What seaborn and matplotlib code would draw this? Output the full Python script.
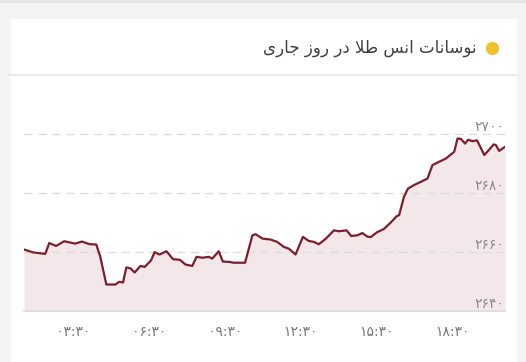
import matplotlib
matplotlib.use("Agg")
import matplotlib.pyplot as plt
import seaborn as sns
import pandas as pd
from matplotlib.patches import Rectangle
from matplotlib.lines import Line2D

# ---------------- data ----------------
title = "نوسانات انس طلا در روز جاری"
times = [1.54, 1.91, 2.38, 2.54, 2.81, 3.13, 3.57, 3.83, 4.14, 4.40, 4.56,
         4.80, 5.16, 5.30, 5.46, 5.59, 5.75, 5.92, 6.15, 6.32, 6.57,
         6.71, 6.90, 7.18, 7.44, 7.71, 7.93, 8.20, 8.37, 8.60, 8.86,
         8.99, 9.25, 9.41, 9.65, 9.85, 10.29, 10.58, 10.71, 10.98,
         11.29, 11.56, 11.82, 12.02, 12.29, 12.58, 12.81, 13.01, 13.21, 13.48,
         13.81, 14.00, 14.31, 14.49, 14.73, 14.93, 15.13, 15.26, 15.52, 15.79,
         16.06, 16.29, 16.39, 16.58, 16.74, 16.98, 17.25, 17.51, 17.71, 17.97,
         18.24, 18.57, 18.70, 18.83, 19.00, 19.12, 19.29, 19.47, 19.60, 19.76,
         19.96, 20.13, 20.22, 20.35, 20.58]
prices = [2660.9, 2659.9, 2659.4, 2663.1, 2662.1, 2663.7, 2662.9, 2663.6, 2662.7, 2662.6, 2658.4,
          2649.0, 2649.0, 2649.9, 2649.7, 2654.8, 2654.5, 2653.1, 2655.3, 2655.0, 2657.2,
          2660.0, 2659.2, 2660.3, 2657.6, 2657.4, 2655.8, 2655.3, 2658.4, 2658.1, 2658.4,
          2657.8, 2660.3, 2656.8, 2656.7, 2656.4, 2656.4, 2665.7, 2666.1, 2664.6,
          2664.3, 2663.5, 2661.8, 2661.2, 2659.2, 2665.2, 2663.8, 2663.5, 2662.7, 2664.5,
          2667.4, 2667.1, 2667.4, 2665.5, 2665.7, 2666.5, 2665.3, 2665.1, 2666.8, 2667.9,
          2670.1, 2672.2, 2672.6, 2678.8, 2681.6, 2682.8, 2683.9, 2685.0, 2689.6, 2690.7,
          2691.8, 2694.1, 2698.6, 2698.5, 2696.9, 2698.2, 2697.7, 2698.0, 2695.8, 2693.0,
          2694.9, 2696.6, 2696.4, 2694.4, 2695.8]
x_ticks = [3.5, 6.5, 9.5, 12.5, 15.5, 18.5]
x_labels = ["۰۳:۳۰", "۰۶:۳۰", "۰۹:۳۰", "۱۲:۳۰", "۱۵:۳۰", "۱۸:۳۰"]
y_ticks = [2640, 2660, 2680, 2700]
y_labels = ["۲۶۴۰", "۲۶۶۰", "۲۶۸۰", "۲۷۰۰"]

# ------------- simple Persian shaping (presentation forms) -------------
FORMS = {  # isolated, final, initial, medial
    "ا": ("\uFE8D", "\uFE8E", None, None),
    "ت": ("\uFE95", "\uFE96", "\uFE97", "\uFE98"),
    "ج": ("\uFE9D", "\uFE9E", "\uFE9F", "\uFEA0"),
    "د": ("\uFEA9", "\uFEAA", None, None),
    "ر": ("\uFEAD", "\uFEAE", None, None),
    "ز": ("\uFEAF", "\uFEB0", None, None),
    "س": ("\uFEB1", "\uFEB2", "\uFEB3", "\uFEB4"),
    "ط": ("\uFEC1", "\uFEC2", "\uFEC3", "\uFEC4"),
    "ل": ("\uFEDD", "\uFEDE", "\uFEDF", "\uFEE0"),
    "ن": ("\uFEE5", "\uFEE6", "\uFEE7", "\uFEE8"),
    "و": ("\uFEED", "\uFEEE", None, None),
    "ی": ("\uFBFC", "\uFBFD", "\uFBFE", "\uFBFF"),
}
LAM_ALEF = ("\uFEFB", "\uFEFC")


def dual(c):
    return c in FORMS and FORMS[c][2] is not None


def shape(text):
    out = []
    for word in text.split(" "):
        res = []
        i = 0
        n = len(word)
        while i < n:
            c = word[i]
            prev_join = i > 0 and dual(word[i - 1]) and not (i > 1 and word[i - 2:i] == "لا")
            if c == "ل" and i + 1 < n and word[i + 1] == "ا":
                res.append(LAM_ALEF[1] if prev_join else LAM_ALEF[0])
                i += 2
                continue
            if c not in FORMS:
                res.append(c)
                i += 1
                continue
            next_join = dual(c) and i + 1 < n and word[i + 1] in FORMS
            iso, fin, ini, med = FORMS[c]
            if prev_join and next_join:
                res.append(med)
            elif prev_join:
                res.append(fin)
            elif next_join:
                res.append(ini)
            else:
                res.append(iso)
            i += 1
        out.append("".join(res)[::-1])
    return " ".join(out[::-1])


# ---------------- figure ----------------
sns.set_style("white")
plt.rcParams["font.family"] = ["DejaVu Sans"]
plt.rcParams["axes.axisbelow"] = True

W, H = 526, 362
fig = plt.figure(figsize=(W / 100, H / 100), dpi=100)
fig.patch.set_facecolor("#f4f4f4")

def px(x, y):
    return x / W, 1 - y / H

# card
fig.add_artist(Rectangle(px(11, 400), (517 - 11) / W, (400 - 19) / H,
                         transform=fig.transFigure, facecolor="white",
                         edgecolor="none", zorder=0))
fig.add_artist(Rectangle(px(0, 3), 1, 3 / H, transform=fig.transFigure,
                         facecolor="#e4e4e4", edgecolor="none", zorder=0))
# separator
fig.add_artist(Line2D([8 / W, 517 / W], [1 - 75 / H, 1 - 75 / H],
                      transform=fig.transFigure, color="#e6e6e6", lw=1.2))
# title and dot
tx, ty = px(477, 48)
fig.text(tx, ty, shape(title), ha="right", va="center", fontsize=12,
         color="#404040", fontweight="normal")
dx, dy = px(491.5, 48)
fig.add_artist(Line2D([dx], [dy], marker="o", markersize=8.5, color="#f2c12e",
                      transform=fig.transFigure))

# axes
left, right, top, bottom = 24, 505, 100, 311
ax = fig.add_axes([left / W, 1 - bottom / H, (right - left) / W, (bottom - top) / H])
ax.set_facecolor("none")

df = pd.DataFrame({"time": times, "price": prices})
ax.fill_between(df["time"], df["price"], 2600, color="#f3e7e9", lw=0, zorder=0.1)
sns.lineplot(data=df, x="time", y="price", ax=ax, color="#7b1f2e", lw=1.6, zorder=3)

ax.set_xlim(min(times), max(times))
ax.set_ylim(2640, 2711.7)

for s in ["top", "right", "left"]:
    ax.spines[s].set_visible(False)
ax.spines["bottom"].set_color("#dcdce4")
ax.spines["bottom"].set_linewidth(1.2)

ax.set_xticks(x_ticks)
ax.set_xticklabels(x_labels)
ax.tick_params(axis="x", length=7, width=1, color="#dddddd", pad=3,
               labelsize=10, labelcolor="#777777")

ax.set_yticks(y_ticks)
ax.set_yticklabels(y_labels)
ax.yaxis.tick_right()
ax.tick_params(axis="y", length=0, pad=-0.5, labelsize=10, labelcolor="#8a8a8a")
for lab in ax.get_yticklabels():
    lab.set_ha("right")
    lab.set_va("bottom")

ax.grid(axis="y", color="#dddddd", linestyle=(0, (6, 4)), lw=1)
ax.grid(axis="x", visible=False)
ax.set_xlabel("")
ax.set_ylabel("")

fig.savefig("out.png", dpi=100, facecolor=fig.get_facecolor())
